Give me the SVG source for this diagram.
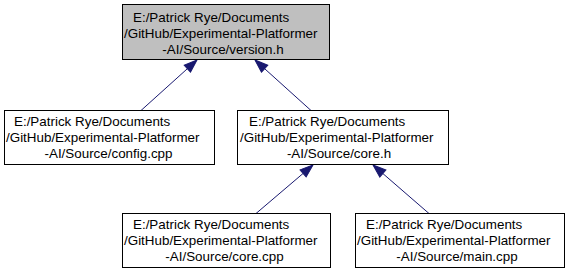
<svg xmlns="http://www.w3.org/2000/svg" width="569" height="275" viewBox="0 0 569 275">
  <style>
    .box { fill: #ffffff; stroke: #000000; stroke-width: 1; }
    .box.root { fill: #bfbfbf; }
    .lbl { font-family: "Liberation Sans", Arial, sans-serif; font-size: 13.4px; fill: #000000; }
    .mid { text-anchor: middle; }
    .edge { stroke: #191970; stroke-width: 1; fill: none; marker-end: url(#head); }
  </style>
  <defs>
    <marker id="head" markerUnits="userSpaceOnUse" markerWidth="16" markerHeight="12" refX="13" refY="0" viewBox="0 -6 16 12" orient="auto" overflow="visible">
      <path d="M0,-4.7 L13,0 L0,4.7 Z" fill="#191970" stroke="#191970" stroke-width="1"/>
    </marker>
  </defs>

  <g id="connectors">
    <line class="edge" x1="141" y1="110.5" x2="197" y2="60"/>
    <line class="edge" x1="311" y1="110.5" x2="255" y2="60"/>
    <line class="edge" x1="256" y1="213.5" x2="313" y2="165"/>
    <line class="edge" x1="429" y1="213.5" x2="373" y2="165"/>
  </g>

  <g id="version_h">
    <rect class="box root" x="122.5" y="4.5" width="207" height="55"/>
    <text class="lbl" x="133" y="21.5">E:/Patrick Rye/Documents</text>
    <text class="lbl" x="124" y="37.5">/GitHub/Experimental-Platformer</text>
    <text class="lbl mid" x="223" y="53.5">-AI/Source/version.h</text>
  </g>

  <g id="config_cpp">
    <rect class="box" x="4.5" y="110.5" width="210" height="54"/>
    <text class="lbl" x="14" y="126">E:/Patrick Rye/Documents</text>
    <text class="lbl" x="6" y="142">/GitHub/Experimental-Platformer</text>
    <text class="lbl mid" x="108.5" y="158">-AI/Source/config.cpp</text>
  </g>

  <g id="core_h">
    <rect class="box" x="237.5" y="110.5" width="211" height="54"/>
    <text class="lbl" x="249" y="126">E:/Patrick Rye/Documents</text>
    <text class="lbl" x="240" y="142">/GitHub/Experimental-Platformer</text>
    <text class="lbl mid" x="339" y="158">-AI/Source/core.h</text>
  </g>

  <g id="core_cpp">
    <rect class="box" x="122.5" y="213.5" width="208" height="54"/>
    <text class="lbl" x="133" y="229">E:/Patrick Rye/Documents</text>
    <text class="lbl" x="124" y="245">/GitHub/Experimental-Platformer</text>
    <text class="lbl mid" x="224.5" y="261">-AI/Source/core.cpp</text>
  </g>

  <g id="main_cpp">
    <rect class="box" x="355.5" y="213.5" width="209" height="54"/>
    <text class="lbl" x="366" y="229">E:/Patrick Rye/Documents</text>
    <text class="lbl" x="357" y="245">/GitHub/Experimental-Platformer</text>
    <text class="lbl mid" x="457" y="261">-AI/Source/main.cpp</text>
  </g>
</svg>
